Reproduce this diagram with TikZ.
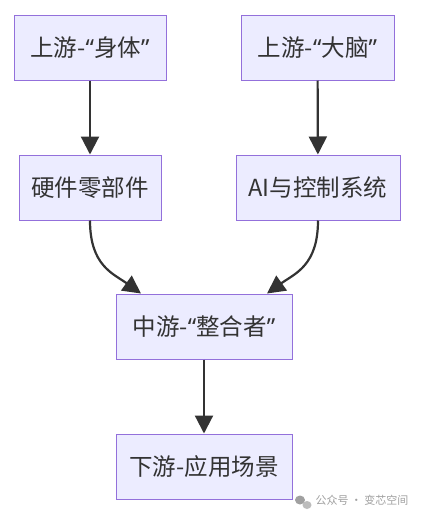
\documentclass[tikz,border=0pt]{standalone}
\usepackage{fontspec}
\usepackage{tikz}
\usetikzlibrary{arrows.meta, positioning}
\newfontfamily\cjk{Noto Sans CJK SC}
\newfontfamily\latin{Noto Sans}
\newcommand{\openq}{{\latin “}}
\newcommand{\closeq}{{\latin ”}}
\definecolor{boxfill}{HTML}{ECECFF}
\definecolor{boxline}{HTML}{9370DB}
\definecolor{linkgray}{HTML}{333333}
\definecolor{markgray}{HTML}{A0A0A0}

\begin{document}
\begin{tikzpicture}[x=1pt, y=-1pt,
    stage/.style={draw=boxline, fill=boxfill, line width=1pt, minimum height=65pt,
        inner xsep=10pt, text=linkgray, font=\cjk\fontsize{23.5}{27}\selectfont},
    link/.style={draw=linkgray, line width=2.2pt, -{Triangle[length=18pt, width=18pt]}}]
    \useasboundingbox (0,0) rectangle (427,517);
    \fill[white] (0,0) rectangle (427,517);

    \node[stage, minimum width=152pt] (body) at (90,47.5) {上游-\openq 身体\closeq};
    \node[stage, minimum width=153pt] (brain) at (317.5,47.5) {上游-\openq 大脑\closeq};
    \node[stage, minimum width=142pt] (parts) at (90,187.5) {硬件零部件};
    \node[stage, minimum width=164pt] (ctrl) at (318,187.5) {AI与控制系统};
    \node[stage, minimum width=176pt] (mid) at (204,326.5) {中游-\openq 整合者\closeq};
    \node[stage, minimum width=176pt] (down) at (204,466.5) {下游-应用场景};

    \draw[link] (body) -- (parts);
    \draw[link] (brain) -- (ctrl);
    \draw[link] (parts.south) .. controls +(0,45) and +(-28,-20) .. ([xshift=-63pt]mid.north);
    \draw[link] (ctrl.south) .. controls +(0,45) and +(28,-20) .. ([xshift=63pt]mid.north);
    \draw[link] (mid) -- (down);

    % watermark
    \fill[markgray] (300,500) ellipse (5pt and 4.5pt);
    \fill[markgray!70] (307,505) ellipse (4.5pt and 4pt);
    \node[right, text=markgray, font=\cjk\fontsize{11}{13}\selectfont] (mark) at (312,500) {公众号 · 变芯空间};
\end{tikzpicture}
\end{document}
